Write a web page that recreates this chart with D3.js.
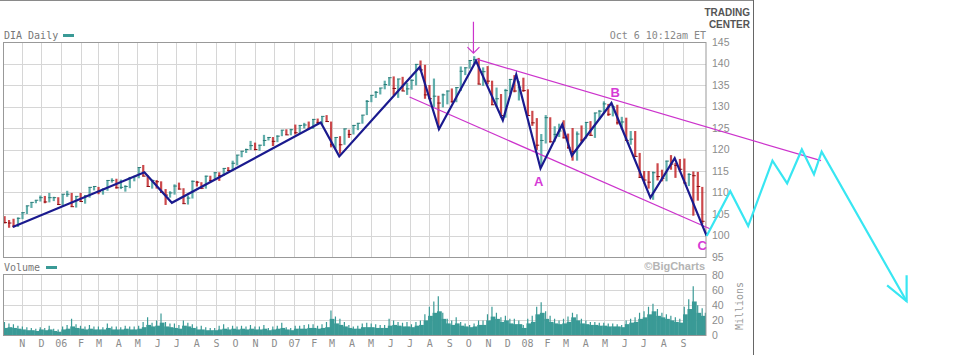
<!DOCTYPE html>
<html><head><meta charset="utf-8">
<script src="https://cdn.jsdelivr.net/npm/d3@7"></script>
<style>body{margin:0;background:#fff}svg{display:block}</style>
</head><body>
<svg id="c" width="967" height="355"></svg>
<script>
// ---------- DATA ----------
const firstMonday = "2005-10-03";
const lastSession = "2008-10-06";
const ticker = "DIA Daily";
const stamp = "Oct 6 10:12am ET";
const priceTicks = [95,100,105,110,115,120,125,130,135,140,145];
const volumeTicks = [0,20,40,60,80];
const monthLabels = ["N","D","06","F","M","A","M","J","J","A","S","O","N","D","07","F","M","A","M","J","J","A","S","O","N","D","08","F","M","A","M","J","J","A","S"];

// weekly high / low / close (one entry per trading week, starting week of Oct 3 2005)
const weekHigh = [
 104.5,103.6,103.9,104.2, 105.4,106.9,107.7,108.2, 109.3,109.2,109.9,109.0,108.9,
 109.6,110.4,109.9,109.1, 109.9,109.4,111.2,111.4, 111.3,111.0,112.8,113.3,113.2, 113.0,111.7,113.6,113.9,
 115.8,116.4,114.0,113.0, 112.9,112.6,110.8,110.3,111.9, 112.3,111.0,109.3,112.8, 112.7,112.4,113.9,113.9,
 114.7,114.7,115.6,115.9,117.4, 118.7,119.6,120.2,122.0, 121.6,121.1,123.4,122.9, 122.9,123.3,124.5,124.7,124.8,
 125.8,125.6,126.2,126.5, 127.1,127.2,127.6,128.0, 126.5,122.8,123.1,124.8,124.6, 125.7,126.1,128.0,131.5,
 132.6,133.6,134.3,136.0, 136.7,137.0,136.4,136.9,135.5, 136.3,139.8,140.7,139.7, 135.0,136.5,132.5,133.0,133.7,
 134.2,134.4,139.3,139.1, 140.7,141.7,141.3,139.1, 139.4,136.0,134.4,132.9,134.1, 136.4,137.3,135.9,136.7,
 134.0,129.0,127.3,123.6, 128.0,127.5,125.4,126.0,126.8, 123.7,125.0,124.2,125.6, 126.4,126.6,128.5,129.2,
 131.2,130.6,130.2,130.4,127.6, 127.4,124.3,124.3,119.2, 115.0,115.0,114.9,116.8, 115.3,117.4,118.7,116.9,117.8,
 117.9,114.5,114.9,114.8, 111.3,103.3
];
const weekLow = [
 102.8,101.8,101.9,102.0, 103.8,105.0,106.4,107.5, 107.9,107.5,107.7,108.0,107.1,
 106.9,109.0,106.7,106.5, 107.9,107.4,108.8,110.5, 109.6,109.5,110.4,112.3,110.9, 110.8,110.2,111.0,112.6,
 113.3,113.8,111.4,110.9, 110.9,109.9,107.1,108.8,109.5, 110.7,107.4,107.2,108.6, 111.4,110.8,110.9,112.6,
 112.9,112.7,113.9,115.0,115.1, 116.3,118.2,119.2,119.9, 119.8,119.7,120.8,122.1, 120.8,121.7,123.1,123.4,123.3,
 123.5,123.6,124.9,124.7, 124.8,125.9,125.8,126.4, 120.5,120.2,119.0,121.1,122.7, 123.5,124.5,126.0,128.0,
 131.0,132.0,132.8,134.0, 134.8,132.6,132.0,133.6,132.7, 133.9,134.9,138.4,131.8, 131.8,129.9,125.2,129.8,130.5,
 130.9,131.0,133.6,137.3, 138.8,139.8,135.2,134.8, 135.2,130.4,129.9,127.4,127.4, 132.8,133.3,131.4,133.4,
 127.9,125.5,119.9,116.3, 121.4,121.6,121.8,122.9,122.6, 120.2,117.4,117.4,121.6, 122.5,123.2,122.7,127.0,
 128.3,127.8,127.7,125.8,124.7, 122.0,121.1,118.3,113.5, 112.1,110.9,108.3,112.8, 112.6,112.6,115.3,113.4,114.8,
 112.2,111.5,104.6,108.1, 102.7,100.6
];
const weekClose = [
 103.0,102.9,102.2,104.0, 105.3,106.9,107.7,108.2, 108.8,107.8,108.8,108.8,107.2,
 109.6,109.6,106.7,109.1, 107.9,109.2,111.2,111.4, 110.2,110.7,112.8,112.8,111.1, 111.2,111.4,113.5,113.7,
 115.8,113.8,111.4,112.8, 112.5,110.1,109.4,109.9,111.5, 110.8,107.4,108.7,112.6, 112.4,111.0,113.8,112.8,
 114.6,113.9,115.6,115.1,116.8, 118.7,119.6,120.0,120.9, 120.0,121.0,122.1,122.8, 121.9,123.1,124.5,123.4,124.6,
 123.9,125.6,125.7,124.9, 127.0,126.3,127.7,126.5, 121.1,122.8,121.1,124.8,123.5, 125.6,126.1,128.0,131.2,
 132.6,133.3,134.3,135.1, 136.7,134.2,136.4,133.6,134.1, 136.1,139.8,138.5,132.7, 131.8,132.4,130.8,132.7,133.6,
 131.1,134.4,138.2,139.0, 140.7,140.9,135.2,138.1, 135.9,130.4,131.8,127.9,133.7, 136.3,133.6,134.5,133.7,
 127.9,126.2,121.0,122.1, 127.4,121.8,123.5,124.3,122.7, 120.4,119.5,123.6,122.2, 126.3,123.3,128.5,128.9,
 130.6,128.2,129.9,126.2,126.4, 122.1,122.4,118.4,113.5, 112.9,112.4,114.6,113.7, 113.3,117.3,116.6,116.3,115.4,
 112.2,114.2,113.9,111.4, 103.3,100.8
];
const firstOpen = 104.2;

// weekly volume, millions: typical level and highest day
const volTypical = [
 10,11,10,9, 8,7,7,6, 8,7,8,6,5,
 8,9,12,10, 9,8,9,8, 8,8,10,8,8, 8,9,8,8, 9,11,14,12, 13,17,12,11,10, 9,13,12,10, 8,8,7,7,
 7,8,9,8,9, 8,9,8,9, 8,8,9,7, 8,9,10,8,7,
 9,9,9,10, 10,9,10,11, 22,16,14,12,10, 9,9,11,11, 11,10,10,10, 13,14,13,12,12, 11,13,14,20, 26,30,32,22,16,
 14,16,13,12, 11,12,14,14, 20,25,22,18,20, 16,15,15,10,
 16,18,28,30, 22,18,16,15,16, 18,24,20,16, 15,14,14,13, 13,12,12,12,11, 15,17,18,22, 24,28,32,26, 24,22,20,18,17,
 28,35,45,30, 26,20
];
const volPeak = [
 18,16,15,13, 12,11,10,9, 11,10,13,9,8,
 12,14,22,15, 13,12,14,12, 12,11,16,12,12, 11,13,12,12, 13,18,24,17, 20,29,18,16,16, 14,20,17,15, 12,13,11,10,
 10,13,15,11,13, 12,13,12,14, 12,12,14,10, 12,13,17,11,10,
 13,13,14,15, 15,13,15,18, 33,25,22,18,14, 12,13,16,17, 16,15,14,14, 22,20,18,17,18, 15,18,20,28, 38,45,52,30,22,
 20,24,18,16, 14,16,20,20, 28,38,30,24,26, 22,22,20,14,
 22,26,38,44, 32,26,22,20,22, 25,30,28,22, 20,18,18,17, 17,16,16,15,14, 20,22,24,30, 32,38,42,35, 30,28,26,24,22,
 38,48,65,40, 36,30
];

// Elliott-wave drawing (navy zigzag)
const waveDates  = ["2005-10-18","2006-05-12","2006-06-24","2007-02-12","2007-03-13","2007-07-17","2007-08-16","2007-10-13","2007-11-24","2007-12-15","2008-01-22","2008-02-25","2008-03-11","2008-05-12","2008-07-12","2008-08-19","2008-10-08"];
const waveValues = [102.0,114.7,107.6,126.3,118.4,139.2,124.7,140.6,126.8,137.4,115.6,125.8,118.6,130.8,108.8,118.0,99.9];
// channel (magenta)
const upperChannel = [["2007-10-14",141.0],["2009-04-05",117.4]];
const lowerChannel = [["2007-07-01",132.2],["2008-10-14",101.5]];
const topArrow = {date:"2007-10-09", from:149.7, to:142.4};
const waveLabels = [{t:"A",date:"2008-01-19",v:111.4},{t:"B",date:"2008-05-18",v:132.2},{t:"C",date:"2008-10-01",v:96.6}];
// projected path (cyan)
const projDates  = ["2008-10-08","2008-11-14","2008-12-12","2009-01-19","2009-02-11","2009-03-06","2009-03-25","2009-04-06","2009-08-17"];
const projValues = [99.9,110.3,102.2,117.4,112.1,120.0,114.2,119.5,84.7];

// ---------- DRAW ----------
const parse = d3.timeParse("%Y-%m-%d");
const svg = d3.select("#c");
const L = 3, R = 706, pTop = 42, pBot = 257, vTop = 275, vBot = 335.5;
const x = d3.scaleTime().domain([parse("2005-10-03"), parse("2008-10-07")]).range([3.2, 706]);
const y = d3.scaleLinear().domain([95,145]).range([pBot, pTop]);
const yv = d3.scaleLinear().domain([0,80]).range([vBot, vTop]);
const mono = "'DejaVu Sans Mono', monospace";
const sans = "'Liberation Sans', Arial, sans-serif";
const teal = "#3a9a96", red = "#bf1a1e";

// frame
svg.append("line").attr("x1",0).attr("x2",753).attr("y1",0.5).attr("y2",0.5).attr("stroke","#8a8a8a");
svg.append("line").attr("x1",753.5).attr("x2",753.5).attr("y1",0).attr("y2",355).attr("stroke","#666");
svg.append("text").attr("x",750).attr("y",16).attr("text-anchor","end").attr("font-family",sans).attr("font-weight","bold").attr("font-size",10).attr("fill","#555").text("TRADING");
svg.append("text").attr("x",750).attr("y",28).attr("text-anchor","end").attr("font-family",sans).attr("font-weight","bold").attr("font-size",10).attr("fill","#555").text("CENTER");

const lastD = parse(lastSession);
const monthStarts = d3.timeMonth.range(new Date(2005,10,1), new Date(2008,9,1));
const weeks = weekClose.map((c,i)=>{
  const mon = d3.timeDay.offset(parse(firstMonday), 7*i);
  const endDay = d3.min([d3.timeDay.offset(mon,5), d3.timeDay.offset(lastD,1)]);
  const nextMon = d3.min([d3.timeDay.offset(mon,7), d3.timeDay.offset(lastD,1)]);
  const open = i===0 ? firstOpen : weekClose[i-1];
  return {mon, endDay, nextMon, mid: d3.timeDay.offset(mon, Math.min(2, (endDay-mon)/864e5/2)), h:weekHigh[i], l:weekLow[i], c, open, vt:volTypical[i], vp:volPeak[i]};
});

function panel(top, bot, yScale, hTicks){
  const g = svg.append("g");
  g.selectAll(".vg").data(monthStarts).join("line")
    .attr("x1",d=>Math.round(x(d))+0.5).attr("x2",d=>Math.round(x(d))+0.5)
    .attr("y1",top).attr("y2",bot).attr("stroke","#d6d6d6");
  g.selectAll(".hg").data(hTicks).join("line")
    .attr("x1",L).attr("x2",R).attr("y1",d=>Math.round(yScale(d))+0.5).attr("y2",d=>Math.round(yScale(d))+0.5).attr("stroke","#d6d6d6");
  return g;
}
panel(pTop, pBot, y, priceTicks.slice(1,-1));
panel(vTop, vBot, yv, volumeTicks.slice(1,-1));

// clip paths
const defs = svg.append("defs");
defs.append("clipPath").attr("id","cp").append("rect").attr("x",L).attr("y",pTop).attr("width",R-L).attr("height",pBot-pTop);
defs.append("clipPath").attr("id","cv").append("rect").attr("x",L).attr("y",vTop).attr("width",R-L).attr("height",vBot-vTop);

// price bars (weekly OHLC-style bars)
const pb = svg.append("g").attr("clip-path","url(#cp)");
pb.selectAll("rect").data(weeks).join("rect")
  .attr("x",d=>x(d.mon)+0.3).attr("width",d=>Math.max(1, x(d.endDay)-x(d.mon)-1))
  .attr("y",d=>y(d.h)).attr("height",d=>Math.max(1,y(d.l)-y(d.h)))
  .attr("fill",d=>d.c>=d.open?teal:red).attr("opacity",0.8);
pb.selectAll("line.cl").data(weeks).join("line").attr("class","cl")
  .attr("x1",d=>x(d.mon)+0.3).attr("x2",d=>x(d.endDay)+0.6).attr("y1",d=>y(d.c)).attr("y2",d=>y(d.c))
  .attr("stroke",d=>d.c>=d.open?"#2a7a76":"#8a0c10").attr("stroke-width",1);

// volume
const vb = svg.append("g").attr("clip-path","url(#cv)");
vb.selectAll("rect").data(weeks).join("rect")
  .attr("x",d=>x(d.mon)).attr("width",d=>x(d.nextMon)-x(d.mon)+0.3)
  .attr("y",d=>yv(d.vt)).attr("height",d=>vBot-yv(d.vt)).attr("fill",teal);
vb.selectAll("line").data(weeks).join("line")
  .attr("x1",d=>x(d.mid)).attr("x2",d=>x(d.mid)).attr("y1",d=>yv(d.vp)).attr("y2",vBot)
  .attr("stroke",teal).attr("stroke-width",1.2);

// borders
svg.append("rect").attr("x",L+0.5).attr("y",pTop+0.5).attr("width",R-L-0.5).attr("height",pBot-pTop).attr("fill","none").attr("stroke","#999");
svg.append("rect").attr("x",L+0.5).attr("y",vTop-0.5).attr("width",R-L-0.5).attr("height",vBot-vTop+0.5).attr("fill","none").attr("stroke","#999");

// axes
const yAx = svg.append("g").attr("transform",`translate(${R+5},0)`).call(d3.axisRight(y).tickValues(priceTicks).tickSize(0).tickPadding(1));
const vAx = svg.append("g").attr("transform",`translate(${R+5},0)`).call(d3.axisRight(yv).tickValues(volumeTicks).tickSize(0).tickPadding(1));
const xAx = svg.append("g").attr("transform",`translate(0,${vBot})`).call(d3.axisBottom(x).tickValues(monthStarts).tickFormat((d,i)=>monthLabels[i]).tickSize(0).tickPadding(4));
[yAx,vAx,xAx].forEach(a=>{a.select(".domain").remove(); a.selectAll("text").attr("fill","#8c8c8c");});
yAx.selectAll("text").attr("font-family",sans).attr("font-size",10.5);
vAx.selectAll("text").attr("font-family",sans).attr("font-size",10.5);
xAx.selectAll("text").attr("font-family",mono).attr("font-size",10);

// header texts
svg.append("text").attr("x",4).attr("y",39).attr("font-family",mono).attr("font-size",10).attr("fill","#777").text(ticker);
svg.append("rect").attr("x",63).attr("y",34).attr("width",11).attr("height",3).attr("fill",teal);
svg.append("text").attr("x",R).attr("y",39).attr("text-anchor","end").attr("font-family",mono).attr("font-size",10).attr("fill","#888").text(stamp);
svg.append("text").attr("x",4).attr("y",271).attr("font-family",mono).attr("font-size",10).attr("fill","#777").text("Volume");
svg.append("rect").attr("x",46).attr("y",266).attr("width",11).attr("height",3).attr("fill",teal);
svg.append("text").attr("x",R-1).attr("y",270).attr("text-anchor","end").attr("font-family",sans).attr("font-weight","bold").attr("font-size",11).attr("fill","#b4b4b4").text("\u00A9BigCharts");
svg.append("text").attr("transform","translate(743,306) rotate(-90)").attr("text-anchor","middle").attr("font-family",mono).attr("font-size",10).attr("fill","#999").text("Millions");

// annotations
const line = d3.line().x(d=>x(parse(d[0]))).y(d=>y(d[1]));
const mag = "#cc33cc";
svg.append("path").attr("d",line(upperChannel)).attr("fill","none").attr("stroke",mag).attr("stroke-width",1.2);
svg.append("path").attr("d",line(lowerChannel)).attr("fill","none").attr("stroke",mag).attr("stroke-width",1.2);
svg.append("path").attr("d",line(waveDates.map((d,i)=>[d,waveValues[i]]))).attr("fill","none").attr("stroke","#1a1a8e").attr("stroke-width",2.2).attr("stroke-linejoin","miter");
const ax = x(parse(topArrow.date)), ay1 = y(topArrow.from), ay2 = y(topArrow.to);
svg.append("path").attr("d",`M${ax},${ay1}L${ax},${ay2}M${ax-6},${ay2-6}L${ax},${ay2}L${ax+6},${ay2-6}`).attr("fill","none").attr("stroke",mag).attr("stroke-width",1.2);
svg.selectAll("text.wl").data(waveLabels).join("text").attr("class","wl")
  .attr("x",d=>x(parse(d.date))).attr("y",d=>y(d.v)).attr("text-anchor","middle")
  .attr("font-family",sans).attr("font-weight","bold").attr("font-size",13).attr("fill","#d63ad6").text(d=>d.t);

const cyan = "#38e6f2";
const proj = projDates.map((d,i)=>[d,projValues[i]]);
svg.append("path").attr("d",line(proj)).attr("fill","none").attr("stroke",cyan).attr("stroke-width",2.2).attr("stroke-linejoin","miter");
const tip = proj[proj.length-1];
const tx = x(parse(tip[0])), ty = y(tip[1]);
svg.append("path").attr("d",`M${tx-19.5},${ty-16}L${tx},${ty}L${tx},${ty-26}`).attr("fill","none").attr("stroke",cyan).attr("stroke-width",2.2);
</script>
</body></html>
